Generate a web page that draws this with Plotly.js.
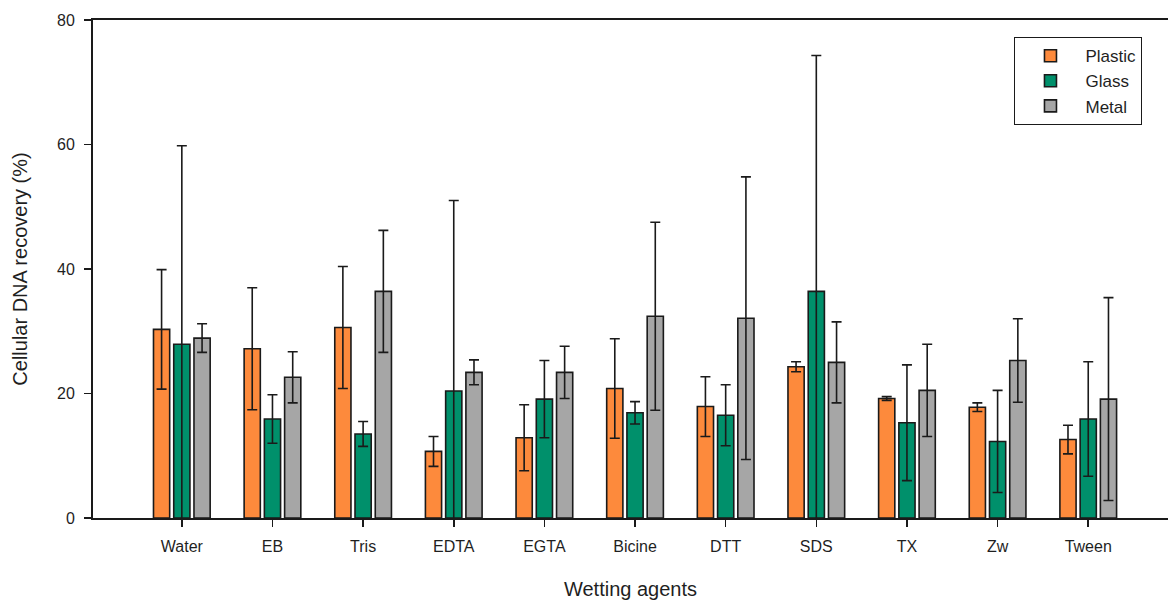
<!DOCTYPE html>
<html>
<head>
<meta charset="utf-8">
<script src="https://cdn.plot.ly/plotly-3.0.1.min.js"></script>
<style>html,body{margin:0;padding:0;background:#fff;}#chart{width:1168px;height:600px;}</style>
</head>
<body>
<div id="chart"></div>
<script>
var categories = ["Water","EB","Tris","EDTA","EGTA","Bicine","DTT","SDS","TX","Zw","Tween"];
var plastic    = [30.3, 27.2, 30.6, 10.7, 12.9, 20.8, 17.9, 24.3, 19.2, 17.8, 12.6];
var plasticErr = [9.6, 9.8, 9.8, 2.4, 5.3, 8.0, 4.8, 0.8, 0.3, 0.7, 2.3];
var glass      = [27.9, 15.9, 13.5, 20.4, 19.1, 16.9, 16.5, 36.4, 15.3, 12.3, 15.9];
var glassErr   = [31.9, 3.9, 2.0, 30.6, 6.2, 1.8, 4.9, 37.9, 9.3, 8.2, 9.2];
var metal      = [28.9, 22.6, 36.4, 23.4, 23.4, 32.4, 32.1, 25.0, 20.5, 25.3, 19.1];
var metalErr   = [2.3, 4.1, 9.8, 2.0, 4.2, 15.1, 22.7, 6.5, 7.4, 6.7, 16.3];

var seriesNames = ["Plastic","Glass","Metal"];
var seriesVals = [plastic, glass, metal];
var seriesErrs = [plasticErr, glassErr, metalErr];
var colors = ["#fd8a3c", "#00906b", "#a6a6a6"];

var txt = "#1f1f1f";
var traces = seriesNames.map(function(n, i){
  return {
    type: "bar",
    name: n,
    x: categories,
    y: seriesVals[i],
    marker: {color: colors[i], line: {color: "#1a1a1a", width: 1.6}},
    error_y: {type: "data", array: seriesErrs[i], visible: true, color: "#1a1a1a", thickness: 1.6, width: 5}
  };
});

var layout = {
  width: 1168, height: 600,
  margin: {l: 93, r: 0, t: 20, b: 82},
  paper_bgcolor: "#fff", plot_bgcolor: "#fff",
  font: {family: "Liberation Sans, Arial, sans-serif", color: txt, size: 16},
  barmode: "group",
  bargap: 0.33,
  bargroupgap: 0.2,
  showlegend: true,
  legend: {
    x: 0.857, y: 0.966, xanchor: "left", yanchor: "top",
    bordercolor: "#1a1a1a", borderwidth: 1.2, bgcolor: "#fff",
    font: {size: 17, color: txt},
    itemwidth: 60
  },
  xaxis: {
    type: "category",
    range: [-0.98, 10.88],
    showline: true, linecolor: "#1a1a1a", linewidth: 2,
    mirror: true,
    ticks: "outside", ticklen: 7, tickwidth: 1.6, tickcolor: "#1a1a1a",
    ticklabelstandoff: 6,
    showgrid: false, zeroline: false,
    tickfont: {size: 16, color: txt},
    title: {text: "Wetting agents", font: {size: 20, color: txt}, standoff: 28}
  },
  yaxis: {
    range: [0, 80],
    tickvals: [0, 20, 40, 60, 80],
    showline: true, linecolor: "#1a1a1a", linewidth: 2,
    ticks: "outside", ticklen: 7, tickwidth: 1.6, tickcolor: "#1a1a1a",
    ticklabelstandoff: 6,
    showgrid: false, zeroline: false,
    tickfont: {size: 16, color: txt},
    title: {text: "Cellular DNA recovery (%)", font: {size: 20, color: txt}, standoff: 24}
  }
};

Plotly.newPlot("chart", traces, layout, {displayModeBar: false, staticPlot: true});
</script>
</body>
</html>
